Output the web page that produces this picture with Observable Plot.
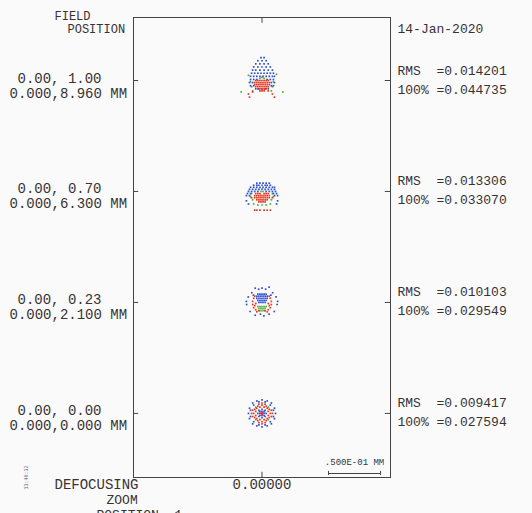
<!DOCTYPE html>
<html><head><meta charset="utf-8">
<script src="https://cdn.jsdelivr.net/npm/d3@7"></script>
<script src="https://cdn.jsdelivr.net/npm/@observablehq/plot@0.6"></script>
<style>html,body{margin:0;padding:0;background:#fafafa;} #chart{width:532px;height:513px;overflow:hidden;}</style>
</head><body><div id="chart"></div>
<script>
// Field labels and spot statistics (mm)
const fieldRel = ["0.00, 1.00", "0.00, 0.70", "0.00, 0.23", "0.00, 0.00"];
const fieldMM = ["0.000,8.960 MM", "0.000,6.300 MM", "0.000,2.100 MM", "0.000,0.000 MM"];
const rmsValues = ["0.014201", "0.013306", "0.010103", "0.009417"];
const fullValues = ["0.044735", "0.033070", "0.029549", "0.027594"];
const dateText = "14-Jan-2020";
const defocusText = "0.00000";
const scaleText = ".500E-01 MM";
const scaleLen = 50; // micrometres

// Ray intercepts, offsets from the field's reference point, micrometres (dx right, dy down)
const spot1Blue = [[-1,-22],[2,-22],[-4,-19],[0,-19],[4,-19],[-6,-16],[-2,-16],[2,-16],[6,-16],
 [-8,-13],[-4,-13],[0,-13],[4,-13],[8,-13],[-9,-10],[-6,-10],[-2,-10],[2,-10],[6,-10],[10,-10],
 [-10,-7],[-7,-7],[-4,-7],[-1,-7],[2,-7],[5,-7],[8,-7],[11,-7],
 [-11,-4],[-8,-4],[-5,-4],[-2,-4],[1,-4],[4,-4],[7,-4],[10,-4],[12,-4],
 [-11,-1],[-8,-1],[-5,-1],[5,-1],[8,-1],[11,-1],[-12,2],[-9,2],[9,2],[12,2],
 [-11,5],[-8,5],[9,5],[11,5],[-6,8],[-3,8],[0,8],[3,8],[6,8]];
const spot1Red = [[-6,0],[-4,0],[-2,0],[0,0],[2,0],[4,0],[6,0],
 [-7,2],[-5,2],[-3,2],[-1,2],[1,2],[3,2],[5,2],[7,2],
 [-7,4],[-5,4],[-3,4],[-1,4],[1,4],[3,4],[5,4],[7,4],
 [-6,6],[-4,6],[-2,6],[0,6],[2,6],[4,6],[6,6],[-4,8],[-2,8],[0,8],[2,8],[4,8],
 [-2,10],[0,10],[2,10],[-13,13],[-12,16],[10,13],[12,16],[-9,11],[6,10]];
const spot1Green = [[-13,-5],[-11,1],[-10,6],[-20,11],[-9,10],[14,-6],[11,1],[10,6],[20,11],[9,10],
 [0,-3],[-2,-2],[2,-2]];

const spot2Blue = [[-5,-8],[-2,-8],[1,-8],[4,-8],[7,-8],
 [-8,-6],[-5,-6],[-3,-6],[0,-6],[3,-6],[5,-6],[8,-6],
 [-11,-4],[-8,-4],[-5,-4],[-2,-4],[1,-4],[4,-4],[7,-4],[10,-4],[12,-4],
 [-12,-2],[-9,-2],[-6,-2],[-3,-2],[0,-2],[3,-2],[6,-2],[9,-2],[12,-2],
 [-13,0],[-10,0],[-7,0],[-4,0],[4,0],[7,0],[10,0],[13,0],
 [-14,2],[-11,2],[11,2],[14,2],[-15,4],[-12,4],[12,4],[15,4],
 [-15,9],[15,9],[-13,12],[14,12]];
const spot2Red = [[-6,2],[-4,2],[-2,2],[2,2],[4,2],[6,2],
 [-7,4],[-5,4],[-3,4],[-1,4],[1,4],[3,4],[5,4],[7,4],
 [-7,6],[-5,6],[-3,6],[-1,6],[1,6],[3,6],[5,6],[7,6],
 [-5,8],[-3,8],[-1,8],[1,8],[3,8],[5,8],[-3,10],[-1,10],[1,10],[3,10],
 [-10,6],[10,6],[-7,18],[-5,18],[-2,18],[2,18],[5,18],[8,18]];
const spot2Green = [[-10,2],[-9,8],[10,2],[9,8],[-8,12],[-4,13],[0,13],[4,13],[8,12],
 [-1,0],[1,0],[-11,5],[11,5]];

const spot3Blue = [[-6.5,-13.7],[-3.2,-12.7],[0,-13.7],[3.5,-12.7],[6.8,-14.7],[-9.8,-9.3],[10.2,-9.3],
 [-13.2,-5.3],[13.5,-5.3],[-14.8,2],[14.5,2],[-11.5,8.7],[11.8,8.7],[-6.5,12.3],[-1.5,11.3],
 [1.8,13],[6.8,11.3],[-8.2,-7],[8.5,-7],[-15,-1],[15,-1],
 [-4,-8],[-2,-8],[0,-8],[2,-8],[4,-8],[-5,-6],[-3,-6],[-1,-6],[1,-6],[3,-6],[5,-6],
 [-5,-4],[-3,-4],[-1,-4],[1,-4],[3,-4],[5,-4],[-4,-2],[-2,-2],[0,-2],[2,-2],[4,-2],
 [-3,0],[-1,0],[1,0],[3,0]];
const spot3Red = [[-8,-4],[-9,-1],[-9,2],[-8,5],[-6,7],[8,-4],[9,-1],[9,2],[8,5],[6,7],
 [-7,-6],[7,-6],[-6,1],[6,1],[-7,3],[7,3],[-3,8],[3,8],[-5,9],[5,9]];
const spot3Green = [[-4,4],[-2,4],[0,4],[2,4],[4,4],[-3,6],[-1,6],[1,6],[3,6],[-2,8],[0,8],[2,8]];

const spot4Blue = [[0,-13],[5,-12],[9,-10],[12,-5],[13,0],[12,5],[9,10],[5,12],[0,13],[-5,12],[-9,10],
 [-12,5],[-13,0],[-12,-5],[-9,-10],[-5,-12],[3,-11],[-3,-11],[8,-8],[-8,-8],[11,-3],[-11,-3],
 [11,3],[-11,3],[8,8],[-8,8],[3,11],[-3,11],
 [-2,-2],[0,-2],[2,-2],[-2,0],[2,0],[-2,2],[0,2],[2,2],[0,-4],[-4,0],[4,0],[0,4],
 [-3,-3],[3,-3],[-3,3],[3,3]];
const spot4Red = [[0,-8],[4,-7],[7,-4],[8,0],[7,4],[4,7],[0,8],[-4,7],[-7,4],[-8,0],[-7,-4],[-4,-7],
 [2,-6],[-2,-6],[6,-2],[6,2],[-6,-2],[-6,2],[2,6],[-2,6],[5,-5],[-5,-5],[5,5],[-5,5],
 [0,-10],[10,0],[0,10],[-10,0],[3,-9],[-3,-9],[9,3],[-9,3],[3,9],[-3,9],[9,-3],[-9,-3],
 [0,0],[-1,0],[1,0],[0,-1],[0,1]];
const spot4Green = [[-6,-6],[6,-6],[-6,6],[6,6]];

const spots = [
  {blue: spot1Blue, red: spot1Red, green: spot1Green},
  {blue: spot2Blue, red: spot2Red, green: spot2Green},
  {blue: spot3Blue, red: spot3Red, green: spot3Green},
  {blue: spot4Blue, red: spot4Red, green: spot4Green}
];
const colors = {blue: "#2d4fd0", red: "#e8341e", green: "#4caf2e"};

// layout: 1 µm ≈ 1.04 px
const pxPerUm = 1.04;
const frameW = (390 - 133) / pxPerUm, frameH = (477 - 17) / pxPerUm;
const rowCenter = i => (80 - 17) / pxPerUm + i * 106.7;
const rows = [0, 1, 2, 3];

const pts = [];
for (const c of ["green", "blue", "red"]) {
  spots.forEach((s, i) => {
    for (const [dx, dy] of s[c]) pts.push({x: dx, y: rowCenter(i) + dy, c});
  });
}

const ink = "#383333";
const frameCol = "#444";
const xmin = -frameW / 2, xmax = frameW / 2;
const sbX1 = 64, sbX2 = sbX1 + scaleLen, sbY = (473 - 17) / pxPerUm;

const chart = Plot.plot({
  width: 532, height: 513,
  marginLeft: 133, marginRight: 142, marginTop: 17, marginBottom: 36,
  x: {domain: [xmin, xmax], axis: null},
  y: {domain: [0, frameH], reverse: true, axis: null},
  style: {fontFamily: "'Liberation Mono', 'DejaVu Sans Mono', monospace", background: "#fafafa", color: ink},
  marks: [
    Plot.frame({stroke: frameCol}),
    Plot.ruleY(rows, {y: i => rowCenter(i), x1: xmin, x2: xmin + 5, stroke: frameCol}),
    Plot.ruleY(rows, {y: i => rowCenter(i), x1: xmax - 5, x2: xmax, stroke: frameCol}),
    Plot.ruleX([0], {y1: 0, y2: 5.5, stroke: frameCol}),
    Plot.ruleX([0], {y1: frameH - 5, y2: frameH, stroke: frameCol}),
    Plot.dot(pts, {x: "x", y: "y", fill: d => colors[d.c], symbol: "square", r: 0.95, stroke: null}),
    // left labels
    Plot.text(["FIELD"], {frameAnchor: "top-left", dx: 54 - 133, dy: 19 - 17, textAnchor: "start", lineAnchor: "bottom", fontSize: 12, fill: ink}),
    Plot.text(["POSITION"], {frameAnchor: "top-left", dx: 67 - 133, dy: 32 - 17, textAnchor: "start", lineAnchor: "bottom", fontSize: 12, fill: ink}),
    Plot.text(rows, {y: i => rowCenter(i), text: i => fieldRel[i], frameAnchor: "left", dx: 17 - 133, dy: 2, textAnchor: "start", lineAnchor: "bottom", fontSize: 14, fill: ink}),
    Plot.text(rows, {y: i => rowCenter(i), text: i => fieldMM[i], frameAnchor: "left", dx: 9 - 133, dy: 17, textAnchor: "start", lineAnchor: "bottom", fontSize: 14, fill: ink}),
    // right labels
    Plot.text([dateText], {frameAnchor: "top-right", dx: 7, dy: 32 - 17, textAnchor: "start", lineAnchor: "bottom", fontSize: 13, fill: ink}),
    Plot.text(rows, {y: i => rowCenter(i), text: i => "RMS  =" + rmsValues[i], frameAnchor: "right", dx: 7, dy: -6, textAnchor: "start", lineAnchor: "bottom", fontSize: 13, fill: ink}),
    Plot.text(rows, {y: i => rowCenter(i), text: i => "100% =" + fullValues[i], frameAnchor: "right", dx: 7, dy: 13, textAnchor: "start", lineAnchor: "bottom", fontSize: 13, fill: ink}),
    // scale bar
    Plot.ruleY([sbY], {x1: sbX1, x2: sbX2, stroke: frameCol}),
    Plot.ruleX([sbX1, sbX2], {x: d => d, y1: sbY - 2, y2: sbY + 2, stroke: frameCol}),
    Plot.text([scaleText], {x: (sbX1 + sbX2) / 2, y: (464 - 17) / pxPerUm, lineAnchor: "bottom", fontSize: 9, fill: ink}),
    // bottom labels
    Plot.text(["DEFOCUSING"], {frameAnchor: "bottom-left", dx: 54 - 133, dy: 11, textAnchor: "start", lineAnchor: "bottom", fontSize: 14, fill: ink}),
    Plot.text([defocusText], {x: 0, frameAnchor: "bottom", dy: 11, lineAnchor: "bottom", fontSize: 14, fill: ink}),
    Plot.text(["ZOOM"], {frameAnchor: "bottom-left", dx: 106 - 133, dy: 26, textAnchor: "start", lineAnchor: "bottom", fontSize: 13, fill: ink}),
    Plot.text(["POSITION  1"], {frameAnchor: "bottom-left", dx: 96 - 133, dy: 41, textAnchor: "start", lineAnchor: "bottom", fontSize: 13, fill: ink}),
    Plot.text(["13:46:32"], {frameAnchor: "bottom-left", dx: 27 - 133, dy: 12, rotate: -90, fontSize: 5, fill: "#666"})
  ]
});
document.getElementById("chart").appendChild(chart);
</script></body></html>
